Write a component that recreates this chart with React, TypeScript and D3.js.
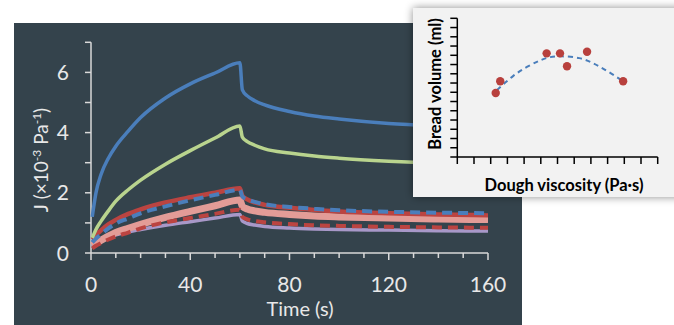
import React, { useRef, useEffect } from 'react';
import * as d3 from 'd3';

// time (s) shared by every creep/recovery curve
const times = [0.5, 2, 4, 7, 10, 15, 20, 30, 40, 50, 60, 61, 63, 66, 70, 80, 90, 100, 120, 140, 160];

const blueSolid = [1.2, 2.0, 2.6, 3.15, 3.55, 4.05, 4.5, 5.15, 5.62, 5.98, 6.32, 5.42, 5.22, 5.06, 4.92, 4.7, 4.55, 4.45, 4.3, 4.22, 4.17];
const greenSolid = [0.5, 0.78, 1.05, 1.4, 1.72, 2.1, 2.42, 2.95, 3.4, 3.82, 4.22, 3.85, 3.7, 3.58, 3.46, 3.32, 3.22, 3.15, 3.05, 2.98, 2.94];
const redSolid = [0.45, 0.6, 0.75, 0.95, 1.1, 1.3, 1.45, 1.68, 1.85, 2.0, 2.15, 1.9, 1.78, 1.68, 1.6, 1.5, 1.43, 1.38, 1.32, 1.28, 1.25];
const blueDashed = [0.35, 0.48, 0.62, 0.82, 0.98, 1.15, 1.32, 1.55, 1.75, 1.93, 2.1, 1.88, 1.78, 1.7, 1.62, 1.53, 1.47, 1.42, 1.37, 1.34, 1.32];
const pinkSolid = [0.25, 0.33, 0.42, 0.56, 0.68, 0.82, 0.95, 1.18, 1.38, 1.57, 1.76, 1.55, 1.46, 1.4, 1.35, 1.28, 1.23, 1.2, 1.16, 1.13, 1.11];
const redDashed = [0.15, 0.24, 0.33, 0.45, 0.55, 0.68, 0.82, 1.02, 1.16, 1.3, 1.44, 1.2, 1.12, 1.06, 1.02, 0.96, 0.92, 0.9, 0.87, 0.85, 0.84];
const purpleSolid = [0.2, 0.3, 0.4, 0.52, 0.6, 0.7, 0.78, 0.92, 1.04, 1.16, 1.28, 1.06, 0.98, 0.93, 0.88, 0.83, 0.8, 0.78, 0.76, 0.74, 0.73];

const xTickLabels = [0, 40, 80, 120, 160];
const yTickLabels = [0, 2, 4, 6];

// inset: bread volume vs dough viscosity (arbitrary units, no tick labels)
const viscosity = [2.3, 2.57, 5.35, 6.15, 6.57, 7.77, 9.93];
const breadVolume = [6.92, 8.19, 11.21, 11.21, 9.81, 11.39, 8.19];
const fitX = [2.38, 3.37, 4.17, 4.97, 5.57, 6.17, 7.37, 8.17, 8.97, 10.07];
const fitY = [7.25, 8.87, 9.77, 10.49, 10.85, 10.92, 10.78, 10.13, 9.33, 8.03];

const FONT = 'Lato, "Open Sans", sans-serif';

const App = () => {
    const ref = useRef<SVGSVGElement>(null);

    useEffect(() => {
        const svg = d3.select(ref.current);
        svg.selectAll('*').remove();

        const defs = svg.append('defs');
        const f = defs.append('filter').attr('id', 'shadow')
            .attr('x', '-10%').attr('y', '-10%').attr('width', '120%').attr('height', '120%');
        f.append('feDropShadow').attr('dx', 0).attr('dy', 0).attr('stdDeviation', 4)
            .attr('flood-color', '#000').attr('flood-opacity', 0.45);

        // dark panel
        svg.append('rect').attr('x', 14).attr('y', 23).attr('width', 508).attr('height', 302)
            .attr('fill', '#34434c');

        const x = d3.scaleLinear().domain([0, 160]).range([91, 488]);
        const y = d3.scaleLinear().domain([0, 7]).range([253, 42.3]);
        const axisCol = '#d9d9d9';
        const textCol = '#e8e8e8';

        const g = svg.append('g');
        // axis lines
        g.append('line').attr('x1', x(0)).attr('x2', x(160)).attr('y1', y(0)).attr('y2', y(0))
            .attr('stroke', axisCol).attr('stroke-width', 1.5);
        g.append('line').attr('x1', x(0)).attr('x2', x(0)).attr('y1', y(0)).attr('y2', y(7))
            .attr('stroke', axisCol).attr('stroke-width', 1.5);
        // x ticks
        g.selectAll('.xt').data(d3.range(0, 161, 10)).join('line')
            .attr('x1', d => x(d)).attr('x2', d => x(d))
            .attr('y1', y(0)).attr('y2', d => y(0) + (d % 40 === 0 ? 7 : 5))
            .attr('stroke', axisCol).attr('stroke-width', 1.5);
        // y ticks
        g.selectAll('.yt').data(d3.range(0, 8, 1)).join('line')
            .attr('x1', x(0) - 6).attr('x2', x(0))
            .attr('y1', d => y(d)).attr('y2', d => y(d))
            .attr('stroke', axisCol).attr('stroke-width', 1.5);

        g.selectAll('.xl').data(xTickLabels).join('text')
            .attr('x', d => x(d)).attr('y', 292)
            .attr('text-anchor', 'middle').attr('fill', textCol)
            .attr('font-family', FONT).attr('font-size', 21).text(d => d);
        g.selectAll('.yl').data(yTickLabels).join('text')
            .attr('x', 69).attr('y', d => y(d) + 7.5)
            .attr('text-anchor', 'end').attr('fill', textCol)
            .attr('font-family', FONT).attr('font-size', 21).text(d => d);

        g.append('text').attr('x', 300).attr('y', 316).attr('text-anchor', 'middle')
            .attr('fill', textCol).attr('font-family', FONT).attr('font-size', 20).text('Time (s)');

        const yt = g.append('text').attr('transform', 'translate(48,160) rotate(-90)')
            .attr('text-anchor', 'middle').attr('fill', textCol)
            .attr('font-family', FONT).attr('font-size', 19);
        yt.append('tspan').text('J (×10');
        yt.append('tspan').attr('font-size', 12).attr('baseline-shift', '7').text('-3');
        yt.append('tspan').text(' Pa');
        yt.append('tspan').attr('font-size', 12).attr('baseline-shift', '7').text('-1');
        yt.append('tspan').text(')');

        const line = d3.line<number>()
            .x((d, i) => x(times[i]))
            .y(d => y(d))
            .curve(d3.curveMonotoneX);

        const series = [
            { v: purpleSolid, c: '#a898c8', w: 3.5, dash: null },
            { v: pinkSolid, c: '#e39c97', w: 7, dash: null },
            { v: redDashed, c: '#bb4441', w: 4, dash: '10 6' },
            { v: redSolid, c: '#bb4441', w: 4.5, dash: null },
            { v: blueDashed, c: '#4a7ebb', w: 4, dash: '10 6' },
            { v: greenSolid, c: '#b9d48e', w: 3.5, dash: null },
            { v: blueSolid, c: '#4a7ebb', w: 3.5, dash: null },
        ];
        svg.append('g').selectAll('path').data(series).join('path')
            .attr('d', d => line(d.v))
            .attr('fill', 'none')
            .attr('stroke', d => d.c)
            .attr('stroke-width', d => d.w)
            .attr('stroke-dasharray', d => d.dash);

        // inset
        const ins = svg.append('g');
        ins.append('rect').attr('x', 413).attr('y', 8).attr('width', 280).attr('height', 189)
            .attr('fill', '#f2f2f2').attr('filter', 'url(#shadow)');

        const xi = d3.scaleLinear().domain([0, 12]).range([457.3, 657.7]);
        const yi = d3.scaleLinear().domain([0, 15]).range([157, 18.3]);

        ins.append('line').attr('x1', xi(0)).attr('x2', xi(12)).attr('y1', yi(0)).attr('y2', yi(0))
            .attr('stroke', '#000').attr('stroke-width', 1.5);
        ins.append('line').attr('x1', xi(0)).attr('x2', xi(0)).attr('y1', yi(0)).attr('y2', yi(15))
            .attr('stroke', '#000').attr('stroke-width', 1.5);
        ins.selectAll('.ixt').data(d3.range(0, 13)).join('line')
            .attr('x1', d => xi(d)).attr('x2', d => xi(d))
            .attr('y1', yi(0)).attr('y2', yi(0) + 7)
            .attr('stroke', '#000').attr('stroke-width', 1.5);
        ins.selectAll('.iyt').data(d3.range(0, 16)).join('line')
            .attr('x1', xi(0) - 7).attr('x2', xi(0))
            .attr('y1', d => yi(d)).attr('y2', d => yi(d))
            .attr('stroke', '#000').attr('stroke-width', 1.5);

        const fit = d3.line<number>().x(d => xi(d)).y((d, i) => yi(fitY[i])).curve(d3.curveBasis);
        ins.append('path').attr('d', fit(fitX)).attr('fill', 'none')
            .attr('stroke', '#4a7ebb').attr('stroke-width', 2).attr('stroke-dasharray', '5 4');

        ins.selectAll('circle').data(viscosity).join('circle')
            .attr('cx', d => xi(d)).attr('cy', (d, i) => yi(breadVolume[i])).attr('r', 4.2)
            .attr('fill', '#b8403d');

        ins.append('text').attr('x', 564).attr('y', 191).attr('text-anchor', 'middle')
            .attr('font-family', FONT).attr('font-weight', 'bold').attr('font-size', 16.5)
            .attr('fill', '#000').text('Dough viscosity (Pa·s)');
        ins.append('text').attr('transform', 'translate(441,84) rotate(-90)').attr('text-anchor', 'middle')
            .attr('font-family', FONT).attr('font-weight', 'bold').attr('font-size', 16.5)
            .attr('fill', '#000').text('Bread volume (ml)');
    }, []);

    return (
        <svg ref={ref} width={674} height={325}
            style={{ position: 'absolute', left: 0, top: 0, background: '#fff' }}></svg>
    );
};

export default App;
